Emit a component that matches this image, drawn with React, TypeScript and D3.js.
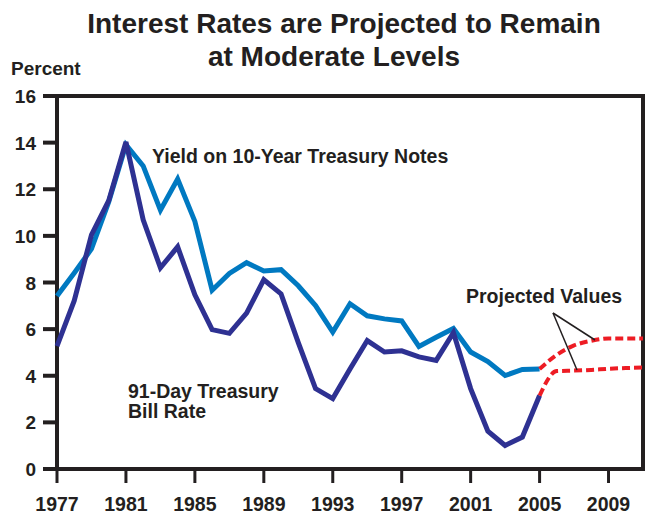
import React from "react";
import * as d3 from "d3";

const years = [1977,1978,1979,1980,1981,1982,1983,1984,1985,1986,1987,1988,1989,1990,1991,1992,1993,1994,1995,1996,1997,1998,1999,2000,2001,2002,2003,2004,2005];
const tenYear = [7.42,8.41,9.44,11.46,13.91,13.0,11.1,12.44,10.62,7.67,8.39,8.85,8.49,8.55,7.86,7.01,5.87,7.09,6.57,6.44,6.35,5.26,5.65,6.03,5.02,4.61,4.01,4.27,4.29];
const tBill = [5.27,7.22,10.04,11.51,14.03,10.69,8.63,9.53,7.47,5.98,5.82,6.69,8.12,7.51,5.42,3.45,3.02,4.29,5.51,5.02,5.07,4.81,4.66,5.85,3.45,1.62,1.01,1.37,3.15];

const projYears = [2005,2006,2007,2008,2009,2010,2011];
const projTenYear = [4.29,4.9,5.3,5.5,5.6,5.6,5.6];
const projTBill = [3.15,4.2,4.22,4.25,4.3,4.33,4.35];

const xTicks = [1977,1981,1985,1989,1993,1997,2001,2005,2009];
const yTicks = [0,2,4,6,8,10,12,14,16];

const W = 645, H = 516;
const left = 57, right = 643, top = 96, bottom = 469;
const INK = "#231f20";
const DARK = "#2e3192";
const LIGHT = "#0079c1";
const RED = "#ed1c24";
const FONT = "'Liberation Sans', Arial, Helvetica, sans-serif";

export default function App() {
  const x = d3.scaleLinear().domain([1977, 2011]).range([left, right]);
  const y = d3.scaleLinear().domain([0, 16]).range([bottom, top]);

  const histLine = d3.line<[number, number]>().x(d => x(d[0])).y(d => y(d[1]));
  const projLine = d3.line<[number, number]>().x(d => x(d[0])).y(d => y(d[1])).curve(d3.curveMonotoneX);

  const tenPts = years.map((yr, i) => [yr, tenYear[i]] as [number, number]);
  const billPts = years.map((yr, i) => [yr, tBill[i]] as [number, number]);
  const pTen = projYears.map((yr, i) => [yr, projTenYear[i]] as [number, number]);
  const pBill = projYears.map((yr, i) => [yr, projTBill[i]] as [number, number]);

  return (
    <svg width={W} height={H} style={{ position: "absolute", left: 0, top: 0, background: "#fff" }} fontFamily={FONT}>
      <rect x={0} y={0} width={W} height={H} fill="#fff" />
      <text x={344} y={33} textAnchor="middle" fontSize={28} fontWeight="bold" fill={INK}>Interest Rates are Projected to Remain</text>
      <text x={334} y={66} textAnchor="middle" fontSize={28} fontWeight="bold" fill={INK}>at Moderate Levels</text>
      <text x={11} y={75} fontSize={19} fontWeight="bold" fill={INK}>Percent</text>

      {/* frame */}
      <rect x={left} y={top} width={right - left} height={bottom - top} fill="none" stroke={INK} strokeWidth={4} />

      {yTicks.map(t => (
        <g key={"y" + t}>
          <line x1={43} x2={left} y1={y(t)} y2={y(t)} stroke={INK} strokeWidth={4} />
          <text x={36} y={y(t) + 7} textAnchor="end" fontSize={19} fontWeight="bold" fill={INK}>{t}</text>
        </g>
      ))}
      {xTicks.map(t => (
        <g key={"x" + t}>
          <line x1={x(t)} x2={x(t)} y1={bottom} y2={bottom + 14} stroke={INK} strokeWidth={3} />
          <text x={x(t)} y={511} textAnchor="middle" fontSize={19.5} fontWeight="bold" fill={INK}>{t}</text>
        </g>
      ))}

      <path d={histLine(tenPts) || ""} fill="none" stroke={LIGHT} strokeWidth={5} strokeLinejoin="miter" />
      <path d={histLine(billPts) || ""} fill="none" stroke={DARK} strokeWidth={5} strokeLinejoin="miter" />
      <path d={projLine(pTen) || ""} fill="none" stroke={RED} strokeWidth={4} strokeDasharray="8,4" />
      <path d={projLine(pBill) || ""} fill="none" stroke={RED} strokeWidth={4} strokeDasharray="8,4" />

      <text x={152} y={163} fontSize={19.5} fontWeight="bold" fill={INK}>Yield on 10-Year Treasury Notes</text>
      <text x={128} y={398} fontSize={19.5} fontWeight="bold" fill={INK}>91-Day Treasury</text>
      <text x={128} y={418} fontSize={19.5} fontWeight="bold" fill={INK}>Bill Rate</text>
      <text x={466} y={303} fontSize={19.5} fontWeight="bold" fill={INK}>Projected Values</text>
      <line x1={553} y1={313} x2={595} y2={340} stroke={INK} strokeWidth={1.5} />
      <line x1={553} y1={313} x2={577} y2={370} stroke={INK} strokeWidth={1.5} />
    </svg>
  );
}
